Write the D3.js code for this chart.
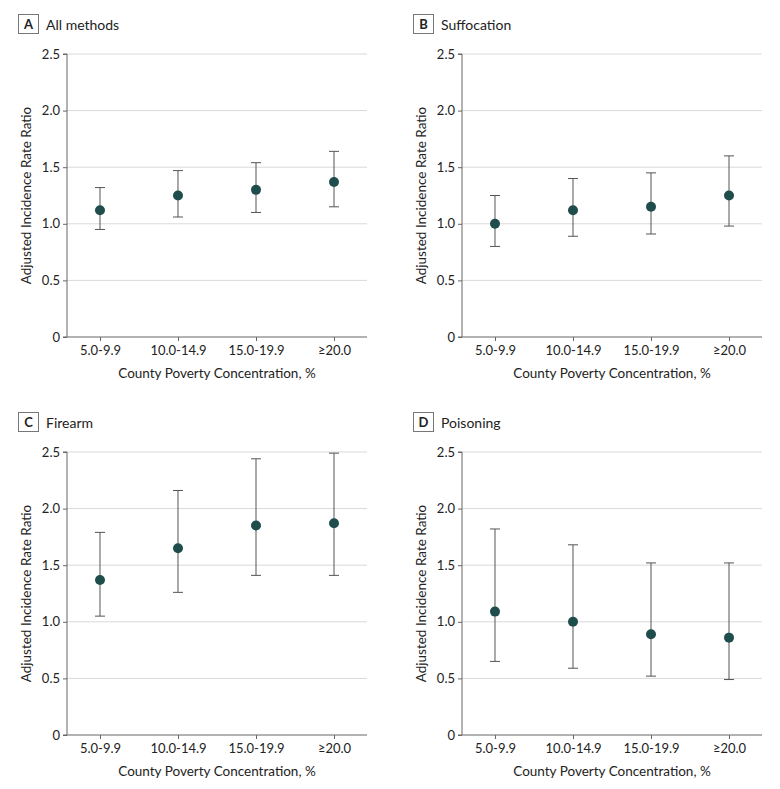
<!DOCTYPE html>
<html>
<head>
<meta charset="utf-8">
<script src="https://cdn.jsdelivr.net/npm/d3@7"></script>
<style>
  body { margin: 0; background: #fff; }
  svg { display: block; font-family: Lato, "Liberation Sans", sans-serif; }
</style>
</head>
<body>
<svg id="chart" width="780" height="789"></svg>
<script>
const categories = ["5.0-9.9", "10.0-14.9", "15.0-19.9", "\u226520.0"];
const yTicks = [0, 0.5, 1.0, 1.5, 2.0, 2.5];
const yTickLabels = ["0", "0.5", "1.0", "1.5", "2.0", "2.5"];
const panelLetters = ["A", "B", "C", "D"];
const panelTitles = ["All methods", "Suffocation", "Firearm", "Poisoning"];

const allMethodsEst = [1.12, 1.25, 1.30, 1.37];
const allMethodsLo  = [0.95, 1.06, 1.10, 1.15];
const allMethodsHi  = [1.32, 1.47, 1.54, 1.64];

const suffocationEst = [1.00, 1.12, 1.15, 1.25];
const suffocationLo  = [0.80, 0.89, 0.91, 0.98];
const suffocationHi  = [1.25, 1.40, 1.45, 1.60];

const firearmEst = [1.37, 1.65, 1.85, 1.87];
const firearmLo  = [1.05, 1.26, 1.41, 1.41];
const firearmHi  = [1.79, 2.16, 2.44, 2.49];

const poisoningEst = [1.09, 1.00, 0.89, 0.86];
const poisoningLo  = [0.65, 0.59, 0.52, 0.49];
const poisoningHi  = [1.82, 1.68, 1.52, 1.52];

const panelData = [
  [allMethodsEst, allMethodsLo, allMethodsHi],
  [suffocationEst, suffocationLo, suffocationHi],
  [firearmEst, firearmLo, firearmHi],
  [poisoningEst, poisoningLo, poisoningHi]
];

const origins = [[0, 0], [395, 0], [0, 398], [395, 398]];
const svg = d3.select("#chart");

const plotLeft = 67, plotRight = 367, plotTop = 54, plotBottom = 337;

panelData.forEach((pd, i) => {
  const [est, lo, hi] = pd;
  const g = svg.append("g").attr("transform", `translate(${origins[i][0]},${origins[i][1]})`);

  // panel header
  g.append("rect").attr("x", 18.5).attr("y", 14.5).attr("width", 20).attr("height", 19)
    .attr("fill", "#fff").attr("stroke", "#777").attr("stroke-width", 1);
  g.append("text").attr("x", 28.5).attr("y", 29).attr("text-anchor", "middle")
    .attr("font-size", 13).attr("font-weight", "bold").attr("fill", "#222").text(panelLetters[i]);
  g.append("text").attr("x", 46).attr("y", 29.5)
    .attr("font-size", 14).attr("fill", "#222").text(panelTitles[i]);

  const x = d3.scalePoint().domain(categories).range([plotLeft, plotRight]).padding(0.423);
  const y = d3.scaleLinear().domain([0, 2.5]).range([plotBottom, plotTop]);

  // gridlines
  g.append("g").selectAll("line").data(yTicks.filter(t => t > 0)).join("line")
    .attr("x1", plotLeft).attr("x2", plotRight)
    .attr("y1", d => y(d)).attr("y2", d => y(d))
    .attr("stroke", "#d9d9d9").attr("stroke-width", 1);

  // y axis
  const yAxis = g.append("g").attr("transform", `translate(${plotLeft},0)`)
    .call(d3.axisLeft(y).tickValues(yTicks).tickSize(4).tickPadding(3)
      .tickFormat((d, k) => yTickLabels[k]));
  yAxis.select(".domain").attr("stroke", "#666").attr("d", `M-4,${plotTop}H0V${plotBottom}H-4`);
  yAxis.selectAll(".tick line").attr("stroke", "#666");
  yAxis.selectAll(".tick text").attr("font-size", 13).attr("fill", "#222")
    .attr("font-family", "Lato, 'Liberation Sans', sans-serif");

  // x axis
  const xAxis = g.append("g").attr("transform", `translate(0,${plotBottom})`)
    .call(d3.axisBottom(x).tickSize(4).tickPadding(5));
  xAxis.select(".domain").attr("stroke", "#666").attr("d", `M${plotLeft},0H${plotRight}`);
  xAxis.selectAll(".tick line").attr("stroke", "#666");
  xAxis.selectAll(".tick text").attr("font-size", 13).attr("fill", "#222")
    .attr("font-family", "Lato, 'Liberation Sans', sans-serif");

  // axis titles
  g.append("text").attr("x", (plotLeft + plotRight) / 2 + 0).attr("y", 378)
    .attr("text-anchor", "middle").attr("font-size", 13.5).attr("fill", "#222")
    .text("County Poverty Concentration, %");
  g.append("text").attr("transform", `translate(31,${(plotTop + plotBottom) / 2}) rotate(-90)`)
    .attr("text-anchor", "middle").attr("font-size", 13.5).attr("fill", "#222")
    .text("Adjusted Incidence Rate Ratio");

  // error bars
  const eb = g.append("g");
  categories.forEach((c, k) => {
    const cx = x(c);
    eb.append("line").attr("x1", cx).attr("x2", cx).attr("y1", y(lo[k])).attr("y2", y(hi[k]))
      .attr("stroke", "#555").attr("stroke-width", 1);
    eb.append("line").attr("x1", cx - 5).attr("x2", cx + 5).attr("y1", y(lo[k])).attr("y2", y(lo[k]))
      .attr("stroke", "#555").attr("stroke-width", 1);
    eb.append("line").attr("x1", cx - 5).attr("x2", cx + 5).attr("y1", y(hi[k])).attr("y2", y(hi[k]))
      .attr("stroke", "#555").attr("stroke-width", 1);
  });

  // points
  g.append("g").selectAll("circle").data(est).join("circle")
    .attr("cx", (d, k) => x(categories[k])).attr("cy", d => y(d)).attr("r", 5)
    .attr("fill", "#1f4d4c");
});
</script>
</body>
</html>
